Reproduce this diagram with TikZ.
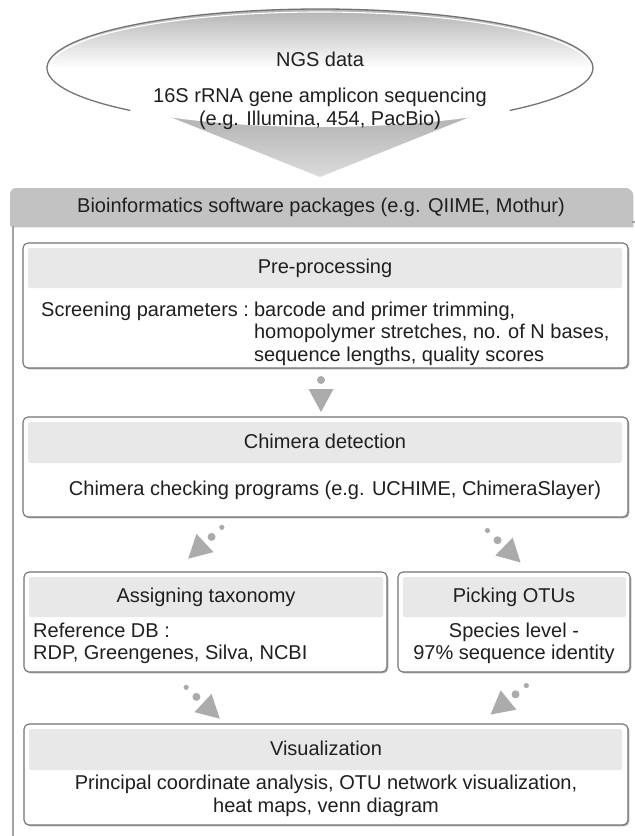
\documentclass[tikz,border=0pt]{standalone}
\usepackage{fontspec}
\setmainfont{Liberation Sans}
\usetikzlibrary{shadows}
\begin{document}
\begin{tikzpicture}[x=1pt,y=1pt,
  txt/.style={font=\fontsize{20}{22.5}\selectfont, text=black!88, inner sep=0pt},
  boxframe/.style={draw=black!55, line width=1.1pt, fill=white, rounded corners=5pt,
     drop shadow={shadow xshift=1.3pt, shadow yshift=-1.3pt, fill=black!45, opacity=0.7}},
  band/.style={fill=black!9, rounded corners=2pt},
  arrowgray/.style={fill=black!33},
  dotarrow/.pic={
    \fill[arrowgray] (0pt,-12.5pt) -- (23pt,0pt) -- (0pt,12.5pt) -- cycle;
    \fill[arrowgray] (-9pt,0pt) circle (4pt);
    \fill[arrowgray] (-23pt,0pt) circle (2.6pt);
  }
]
\useasboundingbox (0,0) rectangle (635,-836);

% funnel and ellipse
\shade[top color=black!34, bottom color=black!14] (128,-100) -- (512,-100) -- (320,-177) -- cycle;
\shade[top color=black!30, bottom color=white, middle color=white] (320,-68) ellipse [x radius=273, y radius=59];
\draw[black!55, line width=1.3pt] (320,-68) ++(226:273 and 59) arc[start angle=226, end angle=-46, x radius=273, y radius=59];
\draw[white, line width=1.1pt] (320,-68) ++(226:270 and 56) arc[start angle=226, end angle=-46, x radius=270, y radius=56];
\node[txt] (ngs) at (320,-59) {NGS data};
\node[txt, align=center] (ngsbody) at (320,-109) {16S rRNA gene amplicon sequencing\\(e.g. Illumina, 454, PacBio)};

% outer panel and header
\draw[black!55, line width=1.1pt, fill=white, rounded corners=6pt] (13,-222) rectangle (700,-900);
\fill[black!24, drop shadow={shadow xshift=1.3pt, shadow yshift=-1.3pt, fill=black!40, opacity=0.6}]
  (10,-226) {[rounded corners=6pt] -- (10,-188) -- (632,-188)} -- (632,-226) -- cycle;
\node[txt] (hdr) at (321,-207) {Bioinformatics software packages (e.g. QIIME, Mothur)};

% arrows
\pic[rotate=-90] at (321,-389) {dotarrow};
\pic[rotate=223] at (205,-543) {dotarrow};
\pic[rotate=-44] at (504,-546.5) {dotarrow};
\pic[rotate=-43] at (203,-703) {dotarrow};
\pic[rotate=219] at (508.5,-700) {dotarrow};

% Pre-processing
\draw[boxframe] (23,-243) rectangle (628,-368);
\fill[band] (28,-248) rectangle (622,-288);
\node[txt] (pre) at (325,-268) {Pre-processing};
\node[txt, anchor=west] (prebody) at (41,-334) {\begin{tabular}{@{}l@{\hspace{5pt}}l@{}}Screening parameters : & barcode and primer trimming,\\ & homopolymer stretches, no. of N bases,\\ & sequence lengths, quality scores\end{tabular}};

% Chimera
\draw[boxframe] (23,-417) rectangle (628,-517);
\fill[band] (28,-422) rectangle (622,-463);
\node[txt] (chim) at (325,-441) {Chimera detection};
\node[txt] (chimbody) at (335,-490) {Chimera checking programs (e.g. UCHIME, ChimeraSlayer)};

% Assigning taxonomy
\draw[boxframe] (24,-572) rectangle (387,-672);
\fill[band] (29,-577) rectangle (383,-617);
\node[txt] (tax) at (206,-597) {Assigning taxonomy};
\node[txt, anchor=west, align=left] (taxbody) at (33,-643.5) {Reference DB :\\RDP, Greengenes, Silva, NCBI};

% Picking OTUs
\draw[boxframe] (398,-572) rectangle (630,-672);
\fill[band] (403,-577) rectangle (626,-617);
\node[txt] (otu) at (514,-597) {Picking OTUs};
\node[txt, align=center] (otubody) at (514,-643.5) {Species level -\\97\% sequence identity};

% Visualization
\draw[boxframe] (24,-724) rectangle (628,-825);
\fill[band] (29,-729) rectangle (622,-770);
\node[txt] (vis) at (326,-748) {Visualization};
\node[txt, align=center] (visbody) at (326,-796) {Principal coordinate analysis, OTU network visualization,\\heat maps, venn diagram};
\end{tikzpicture}
\end{document}
